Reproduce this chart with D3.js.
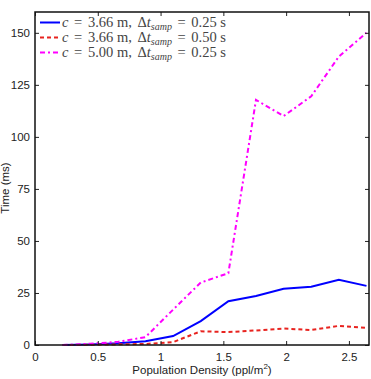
<!DOCTYPE html>
<html><head><meta charset="utf-8">
<script src="https://cdn.jsdelivr.net/npm/d3@7"></script>
<style>body{margin:0;background:#fff}svg{display:block}</style>
</head><body>
<script>
const density = [0.22, 0.44, 0.66, 0.88, 1.10, 1.32, 1.54, 1.76, 1.98, 2.20, 2.42, 2.64];
const blueVals = [0.0, 0.3, 0.8, 1.8, 4.3, 11.5, 21.0, 23.5, 27.0, 28.0, 31.3, 28.4];
const redVals = [0.0, 0.1, 0.3, 0.5, 1.4, 6.6, 6.2, 7.0, 7.9, 7.2, 9.2, 8.2];
const magentaVals = [0.0, 0.6, 1.5, 3.8, 17.0, 30.0, 34.5, 117.8, 110.0, 119.5, 138.6, 150.0];
const xTicks = [0, 0.5, 1, 1.5, 2, 2.5];
const xTickLabels = ["0", "0.5", "1", "1.5", "2", "2.5"];
const yTicks = [0, 25, 50, 75, 100, 125, 150];
const seriesNames = [
  {c: "3.66", dt: "0.25"},
  {c: "3.66", dt: "0.50"},
  {c: "5.00", dt: "0.25"}
];

const W = 371, H = 379;
const m = {l: 35, r: 2, t: 12, b: 34};
const svg = d3.select("body").append("svg").attr("width", W).attr("height", H);
const x = d3.scaleLinear().domain([0, 2.66]).range([m.l, W - m.r]);
const y = d3.scaleLinear().domain([0, 160]).range([H - m.b, m.t]);

const series = [
  {vals: blueVals, color: "#0000ff", dash: null},
  {vals: redVals, color: "#e8231f", dash: "4,3"},
  {vals: magentaVals, color: "#ff00ff", dash: "5,3,2,3"}
];

const g = svg.append("g");
const line = d3.line().x((d, i) => x(density[i])).y(d => y(d));
series.forEach(s => {
  g.append("path").datum(s.vals).attr("d", line).attr("fill", "none")
    .attr("stroke", s.color).attr("stroke-width", 2)
    .attr("stroke-dasharray", s.dash);
});

const font = "Liberation Sans, Arial, sans-serif";
const xb = svg.append("g").attr("transform", `translate(0,${H - m.b})`)
  .call(d3.axisBottom(x).tickValues(xTicks).tickSizeInner(-4).tickSizeOuter(0).tickPadding(6)
    .tickFormat((d, i) => xTickLabels[i]));
const xt = svg.append("g").attr("transform", `translate(0,${m.t})`)
  .call(d3.axisTop(x).tickValues(xTicks).tickSizeInner(-4).tickSizeOuter(0).tickFormat(""));
const yl = svg.append("g").attr("transform", `translate(${m.l},0)`)
  .call(d3.axisLeft(y).tickValues(yTicks).tickSizeInner(-4).tickSizeOuter(0).tickPadding(5));
const yr = svg.append("g").attr("transform", `translate(${W - m.r},0)`)
  .call(d3.axisRight(y).tickValues(yTicks).tickSizeInner(-4).tickSizeOuter(0).tickFormat(""));
[xb, xt, yl, yr].forEach(a => {
  a.select(".domain").remove();
  a.selectAll("line").attr("stroke", "#222");
  a.selectAll("text").attr("font-family", font).attr("font-size", 11.5).attr("fill", "#222");
});
xb.selectAll("text").attr("dy", "0.9em");
svg.append("rect").attr("x", m.l).attr("y", m.t).attr("width", W - m.r - m.l)
  .attr("height", H - m.b - m.t).attr("fill", "none").attr("stroke", "#111").attr("stroke-width", 1.5);

svg.append("text").attr("x", x(1.33)).attr("y", H - 5).attr("text-anchor", "middle")
  .attr("font-family", font).attr("font-size", 11.5).attr("fill", "#222")
  .html('Population Density (ppl/m<tspan dy="-5" font-size="8">2</tspan><tspan dy="5">)</tspan>');
svg.append("text").attr("transform", `translate(9,188) rotate(-90)`).attr("text-anchor", "middle")
  .attr("font-family", font).attr("font-size", 11.5).attr("fill", "#222").text("Time (ms)");

// legend
series.forEach((s, i) => {
  const ly = 22.5 + i * 15;
  svg.append("line").attr("x1", 40).attr("x2", 60).attr("y1", ly).attr("y2", ly)
    .attr("stroke", s.color).attr("stroke-width", 2).attr("stroke-dasharray", s.dash);
  const t = svg.append("text").attr("x", 62).attr("y", ly + 4.5)
    .attr("font-family", "Liberation Serif, serif").attr("font-size", 14.5).attr("fill", "#444");
  t.append("tspan").attr("font-style", "italic").text("c");
  t.append("tspan").attr("class", "gap").text("=");
  t.append("tspan").attr("class", "gap").text(`${seriesNames[i].c} m,`);
  t.append("tspan").attr("class", "gap").text("Δ");
  t.append("tspan").attr("font-style", "italic").text("t");
  t.append("tspan").attr("font-style", "italic").attr("font-size", 10).attr("dy", 3).text("samp");
  t.append("tspan").attr("dy", -3).attr("class", "gap").text("=");
  t.append("tspan").attr("class", "gap").text(`${seriesNames[i].dt} s`);
  const w = t.node().getComputedTextLength();
  const gaps = t.selectAll(".gap");
  const extra = Math.max(2, (164 - w) / gaps.size());
  gaps.attr("dx", extra);
});
</script>
</body></html>
